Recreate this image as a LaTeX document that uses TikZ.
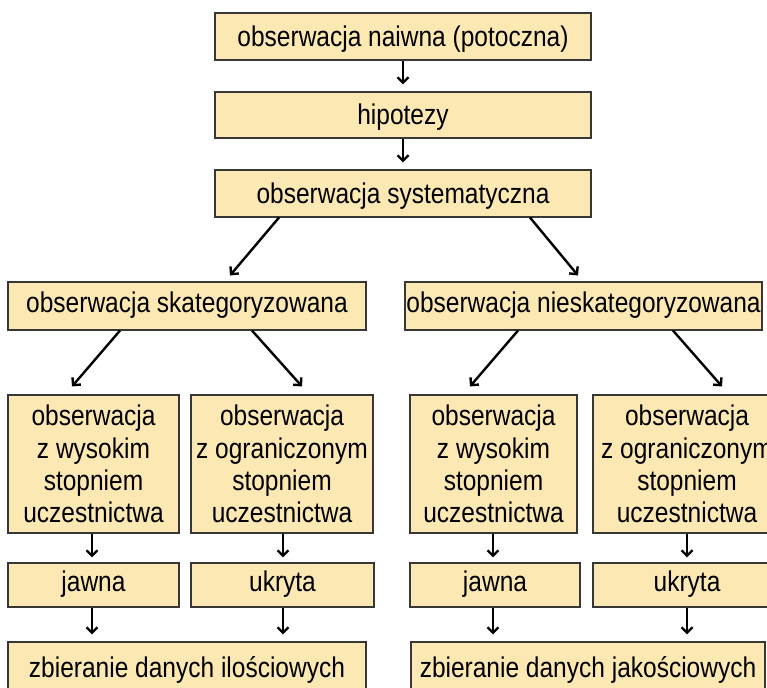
\documentclass[tikz,border=0pt]{standalone}
\usepackage{fontspec}
\setmainfont{Liberation Sans}[FakeStretch=0.86]
\usetikzlibrary{arrows.meta}
\definecolor{boxfill}{RGB}{252,232,178}
\definecolor{boxline}{RGB}{55,55,55}
\begin{document}
\begin{tikzpicture}[x=1pt,y=-1pt,
  box/.style={draw=boxline,line width=1.1pt,fill=boxfill,inner sep=0pt,
    font=\fontsize{28.5}{32.3}\selectfont,align=center},
  topline/.style={text height=20pt,text depth=0pt},
  midline/.style={text height=20pt,text depth=8pt},
  lowline/.style={text height=22pt,text depth=0pt},
  arr/.style={line width=2.4pt,-{Straight Barb[length=5.5pt,width=11pt]}},
  varr/.style={arr,shorten >=7pt}]
\useasboundingbox (0,0) rectangle (767,687);
\clip (0,0) rectangle (767,687);
% level 1-3
\node[box,topline,minimum width=376pt,minimum height=47pt] (n1) at (403,36.5) {obserwacja naiwna (potoczna)};
\node[box,topline,minimum width=376pt,minimum height=46pt] (n2) at (403,115) {hipotezy};
\node[box,topline,minimum width=376pt,minimum height=47pt] (n3) at (403,193.5) {obserwacja systematyczna};
% level 4
\node[box,midline,minimum width=358pt,minimum height=48pt] (n4L) at (187,306) {obserwacja skategoryzowana};
\node[box,midline,minimum width=357pt,minimum height=48pt] (n4R) at (583.5,306) {obserwacja nieskategoryzowana};
% level 5
\node[box,minimum width=171pt,minimum height=138pt] (n5a) at (93.5,464) {obserwacja\\z wysokim\\stopniem\\uczestnictwa};
\node[box,minimum width=182pt,minimum height=138pt] (n5b) at (282,464) {obserwacja\\z ograniczonym\\stopniem\\uczestnictwa};
\node[box,minimum width=167pt,minimum height=138pt] (n5c) at (493.5,464) {obserwacja\\z wysokim\\stopniem\\uczestnictwa};
\node[box,minimum width=188pt,minimum height=138pt] (n5d) at (687,464) {obserwacja\\z ograniczonym\\stopniem\\uczestnictwa};
% level 6
\node[box,midline,minimum width=171pt,minimum height=44pt] (n6a) at (93.5,585) {jawna};
\node[box,midline,minimum width=183pt,minimum height=44pt] (n6b) at (282.5,585) {ukryta};
\node[box,midline,minimum width=170pt,minimum height=44pt] (n6c) at (495,585) {jawna};
\node[box,midline,minimum width=188pt,minimum height=44pt] (n6d) at (687,585) {ukryta};
% level 7
\node[box,lowline,minimum width=358pt,minimum height=48pt] (n7L) at (187,666) {zbieranie danych ilościowych};
\node[box,lowline,minimum width=354pt,minimum height=48pt] (n7R) at (588,666) {zbieranie danych jakościowych};
% vertical arrows
\draw[varr] (n1.south) -- (n1.south |- n2.north);
\draw[varr] (n2.south) -- (n2.south |- n3.north);
\draw[varr,shorten >=5pt] ([xshift=-1.5pt]n5a.south) -- ([xshift=-1.5pt]n5a.south |- n6a.north);
\draw[varr,shorten >=5pt] ([xshift=1pt]n5b.south) -- ([xshift=1pt]n5b.south |- n6b.north);
\draw[varr,shorten >=5pt] ([xshift=-0.5pt]n5c.south) -- ([xshift=-0.5pt]n5c.south |- n6c.north);
\draw[varr,shorten >=5pt] (n5d.south) -- (n5d.south |- n6d.north);
\draw[varr] ([xshift=-1.5pt]n6a.south) -- ([xshift=-1.5pt]n6a.south |- n7L.north);
\draw[varr] ([xshift=0.5pt]n6b.south) -- ([xshift=0.5pt]n6b.south |- n7L.north);
\draw[varr] ([xshift=-2pt]n6c.south) -- ([xshift=-2pt]n6c.south |- n7R.north);
\draw[varr] (n6d.south) -- (n6d.south |- n7R.north);
% diagonal arrows
\draw[arr] ([xshift=-124pt]n3.south) -- ([xshift=43pt,yshift=6pt]n4L.north);
\draw[arr] ([xshift=127pt]n3.south) -- ([xshift=-5.5pt,yshift=6pt]n4R.north);
\draw[arr] ([xshift=-67pt]n4L.south) -- ([xshift=-21.5pt,yshift=8pt]n5a.north);
\draw[arr] ([xshift=65pt]n4L.south) -- ([xshift=20pt,yshift=8pt]n5b.north);
\draw[arr] ([xshift=-65.5pt]n4R.south) -- ([xshift=-23.5pt,yshift=8pt]n5c.north);
\draw[arr] ([xshift=89.5pt]n4R.south) -- ([xshift=35pt,yshift=8pt]n5d.north);
\end{tikzpicture}
\end{document}
